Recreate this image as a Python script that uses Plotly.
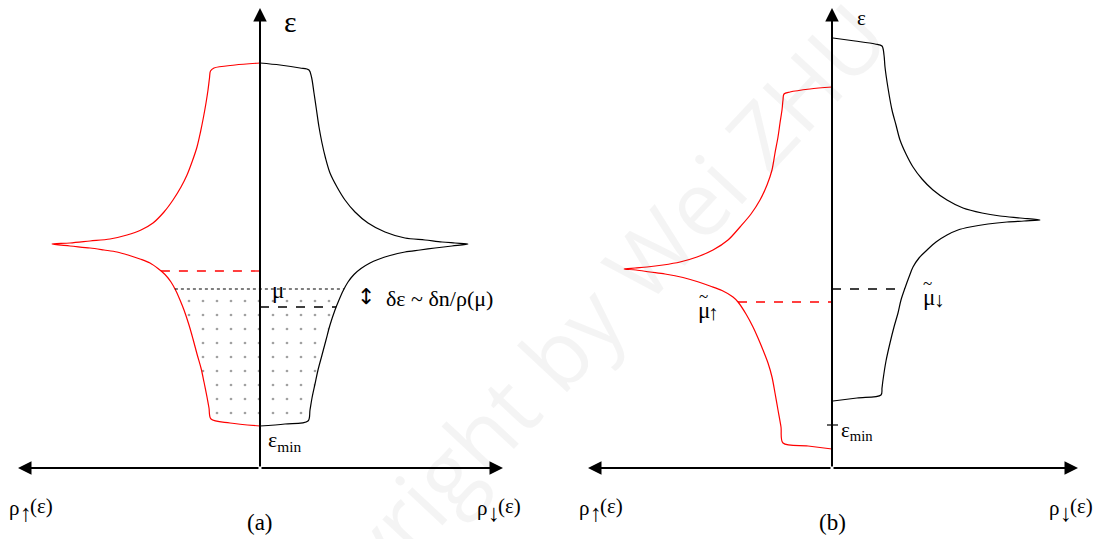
import numpy as np
import plotly.graph_objects as go

# ---------------- data (rho, epsilon) ----------------
# Panel (a): spin-up (left, red) and spin-down (right, black) densities of states
a_up_rho = [0.00, -0.30, -0.49, -0.51, -0.53, -0.56, -0.59, -0.63, -0.67, -0.71, -0.76, -0.80, -0.84,
            -0.89, -0.95, -1.02, -1.10, -1.20, -1.32, -1.43, -1.56, -1.70, -1.90, -2.08,
            -1.90, -1.70, -1.50, -1.33, -1.19, -1.07, -0.96, -0.87, -0.79, -0.73, -0.68, -0.63,
            -0.595, -0.565, -0.54, -0.52, -0.505, -0.495, -0.46, -0.25, 0.00]
a_up_eps = [0.42, 0.45, 0.49, 0.60, 0.71, 0.86, 1.00, 1.14, 1.29, 1.43, 1.58, 1.68, 1.77,
            1.86, 1.935, 1.995, 2.05, 2.09, 2.13, 2.16, 2.18, 2.20, 2.22, 2.24,
            2.25, 2.27, 2.29, 2.33, 2.38, 2.45, 2.56, 2.68, 2.81, 2.93, 3.06, 3.21,
            3.36, 3.51, 3.65, 3.78, 3.90, 3.97, 4.00, 4.03, 4.05]
a_dn_rho = [0.00, 0.25, 0.48, 0.50, 0.52, 0.55, 0.58, 0.62, 0.66, 0.70, 0.75, 0.79, 0.83,
            0.88, 0.94, 1.01, 1.10, 1.18, 1.30, 1.45, 1.60, 1.75, 1.92, 2.08,
            1.95, 1.82, 1.65, 1.45, 1.25, 1.08, 0.95, 0.85, 0.77, 0.70, 0.655, 0.62,
            0.59, 0.565, 0.54, 0.515, 0.49, 0.40, 0.20, 0.00]
a_dn_eps = [0.42, 0.44, 0.47, 0.58, 0.70, 0.84, 0.98, 1.13, 1.28, 1.43, 1.58, 1.68, 1.77,
            1.86, 1.935, 1.995, 2.05, 2.085, 2.125, 2.16, 2.18, 2.20, 2.22, 2.24,
            2.25, 2.26, 2.28, 2.30, 2.36, 2.45, 2.56, 2.68, 2.81, 2.95, 3.10, 3.25,
            3.41, 3.58, 3.75, 3.91, 3.98, 4.00, 4.03, 4.05]
a_mu = 1.79          # common chemical potential (dotted)
a_mu_up = 1.97       # red dashed level
a_mu_dn = 1.61       # black dashed level

# Panel (b): spin-split bands
b_up_rho = [0.00, -0.24, -0.49, -0.51, -0.54, -0.57, -0.60, -0.64, -0.69, -0.74, -0.79, -0.86, -0.94,
            -0.99, -1.10, -1.22, -1.35, -1.49, -1.67, -1.82, -1.96, -2.08,
            -1.97, -1.85, -1.69, -1.52, -1.35, -1.19, -1.04, -0.92, -0.81, -0.72, -0.65, -0.60,
            -0.57, -0.54, -0.52, -0.50, -0.49, -0.48, -0.42, -0.22, 0.00]
b_up_eps = [0.19, 0.22, 0.25, 0.41, 0.58, 0.75, 0.91, 1.05, 1.18, 1.30, 1.41, 1.54, 1.66,
            1.71, 1.775, 1.82, 1.865, 1.905, 1.94, 1.96, 1.98, 1.99,
            2.00, 2.01, 2.03, 2.06, 2.11, 2.18, 2.28, 2.41, 2.54, 2.68, 2.83, 2.98,
            3.15, 3.31, 3.45, 3.58, 3.68, 3.74, 3.76, 3.79, 3.81]
b_dn_rho = [0.01, 0.25, 0.49, 0.50, 0.51, 0.54, 0.58, 0.62, 0.66, 0.69, 0.73, 0.77, 0.81,
            0.87, 0.95, 1.04, 1.15, 1.26, 1.38, 1.56, 1.75, 1.92, 2.08,
            1.88, 1.68, 1.50, 1.31, 1.15, 1.01, 0.90, 0.81, 0.74, 0.68, 0.64, 0.60,
            0.56, 0.53, 0.52, 0.50, 0.43, 0.23, 0.01]
b_dn_eps = [0.67, 0.70, 0.73, 0.80, 0.88, 1.07, 1.25, 1.41, 1.55, 1.68, 1.80, 1.91, 2.01,
            2.10, 2.18, 2.26, 2.33, 2.38, 2.41, 2.44, 2.46, 2.47, 2.48,
            2.50, 2.52, 2.55, 2.60, 2.68, 2.78, 2.89, 3.01, 3.14, 3.28, 3.43, 3.58,
            3.80, 4.01, 4.13, 4.22, 4.24, 4.27, 4.30]
b_mu_up = 1.66
b_mu_dn = 1.79
b_eps_min = 0.43

axis_rho = [-2.42, 2.43, -2.44, 2.46]   # horizontal arrow extents (a-left, a-right, b-left, b-right)
axis_eps_top = 4.60

FONT = "Liberation Serif"


def lower_branch(rho, eps):
    """points of the curve up to (and including) the van Hove peak"""
    k = int(np.argmax(np.abs(rho)))
    return np.array(rho[:k + 1]), np.array(eps[:k + 1])


def rho_at(rho, eps, level):
    r, e = lower_branch(rho, eps)
    return float(np.interp(level, e, r))


fig = go.Figure()

# --- filled (dotted) occupied region in panel (a)
ru, eu = lower_branch(a_up_rho, a_up_eps)
rd, ed = lower_branch(a_dn_rho, a_dn_eps)
mask_u = eu < a_mu
mask_d = ed < a_mu
poly_r = ([rho_at(a_up_rho, a_up_eps, a_mu)] + list(ru[mask_u][::-1]) +
          list(rd[mask_d]) + [rho_at(a_dn_rho, a_dn_eps, a_mu)])
poly_e = [a_mu] + list(eu[mask_u][::-1]) + list(ed[mask_d]) + [a_mu]
fig.add_trace(go.Scatter(x=poly_r, y=poly_e, mode="lines", fill="toself",
                         line=dict(width=0, shape="spline", smoothing=0.9), fillcolor="rgba(0,0,0,0)",
                         fillpattern=dict(shape=".", size=14, solidity=0.03,
                                          fgcolor="#444444", bgcolor="rgba(0,0,0,0)"),
                         xaxis="x", yaxis="y", hoverinfo="skip"))

# --- DOS curves
for r, e, c, xa in [(a_up_rho, a_up_eps, "#ff0000", "x"), (a_dn_rho, a_dn_eps, "#000000", "x"),
                    (b_up_rho, b_up_eps, "#ff0000", "x2"), (b_dn_rho, b_dn_eps, "#000000", "x2")]:
    fig.add_trace(go.Scatter(x=r, y=e, mode="lines",
                             line=dict(color=c, width=1.2, shape="spline", smoothing=0.9),
                             xaxis=xa, yaxis="y", hoverinfo="skip"))


# --- level lines
def hline(x0, x1, y, color, dash, xa, width=1.3):
    fig.add_trace(go.Scatter(x=[x0, x1], y=[y, y], mode="lines",
                             line=dict(color=color, dash=dash, width=width),
                             xaxis=xa, yaxis="y", hoverinfo="skip"))


hline(rho_at(a_up_rho, a_up_eps, a_mu_up), 0, a_mu_up, "#ff0000", "dash", "x")
hline(0, rho_at(a_dn_rho, a_dn_eps, a_mu_dn), a_mu_dn, "#000000", "dash", "x")
hline(rho_at(a_up_rho, a_up_eps, a_mu), rho_at(a_dn_rho, a_dn_eps, a_mu), a_mu, "#000000", "dot", "x", 1.2)
hline(rho_at(b_up_rho, b_up_eps, b_mu_up), 0, b_mu_up, "#ff0000", "dash", "x2")
hline(0, rho_at(b_dn_rho, b_dn_eps, b_mu_dn), b_mu_dn, "#000000", "dash", "x2")
hline(-0.05, 0.06, b_eps_min, "#000000", "solid", "x2", 1.2)

# --- coordinate axes (arrows)
anns = []
for xr, lft, rgt in [("x", axis_rho[0], axis_rho[1]), ("x2", axis_rho[2], axis_rho[3])]:
    for (tx, ty) in [(0, axis_eps_top), (rgt, 0), (lft, 0)]:
        anns.append(dict(x=tx, y=ty, ax=0, ay=0, xref=xr, yref="y", axref=xr, ayref="y",
                         showarrow=True, arrowhead=2, arrowsize=1.35, arrowwidth=2,
                         arrowcolor="black", text=""))


def label(text, x, y, xr, size=20, xanchor="center", yanchor="middle", color="black", family=FONT):
    anns.append(dict(text=text, x=x, y=y, xref=xr, yref="y", showarrow=False,
                     xanchor=xanchor, yanchor=yanchor, font=dict(family=family, size=size, color=color)))


def rho_label(xr, x_rho, x_arrow, x_paren, arrow):
    label("ρ", x_rho, -0.40, xr, size=21, xanchor="left")
    label(arrow, x_arrow, -0.45, xr, size=24)
    label("(ε)", x_paren, -0.38, xr, size=21, xanchor="left")


# panel (a) labels
label("ε", 0.22, 4.47, "x", size=30, xanchor="left")
label("μ", 0.10, 1.78, "x", size=23, xanchor="left")
label("ε<sub>min</sub>", 0.06, 0.27, "x", size=22, xanchor="left")
label("↕", 1.06, 1.72, "x", size=22, family="DejaVu Sans")
label("δε ~ δn/ρ(μ)", 1.24, 1.70, "x", size=22, xanchor="left")
rho_label("x", -2.53, -2.345, -2.32, "↑")
rho_label("x", 2.15, 2.335, 2.36, "↓")
label("(a)", 0.0, -0.545, "x", size=23)

# panel (b) labels
label("ε", 0.23, 4.50, "x2", size=21, xanchor="left")
label("μ", -1.36, 1.58, "x2", size=23, xanchor="left")
label("↑", -1.185, 1.55, "x2", size=21)
label("~", -1.29, 1.72, "x2", size=17)
label("μ", 0.89, 1.71, "x2", size=23, xanchor="left")
label("↓", 1.075, 1.68, "x2", size=21)
label("~", 0.955, 1.85, "x2", size=17)
label("ε<sub>min</sub>", 0.07, 0.37, "x2", size=21, xanchor="left")
rho_label("x2", -2.55, -2.365, -2.34, "↑")
rho_label("x2", 2.15, 2.335, 2.36, "↓")
label("(b)", 0.0, -0.545, "x2", size=23)

# watermark
anns.append(dict(text="Copyright by Wei ZHU", x=0.5, y=0.345, xref="paper", yref="paper",
                 showarrow=False, textangle=-47,
                 font=dict(family="Open Sans", size=90, color="rgba(0,0,0,0.045)")))

hidden = dict(visible=False, showgrid=False, zeroline=False, fixedrange=True)
fig.update_layout(
    width=1111, height=539,
    margin=dict(l=0, r=0, t=0, b=0),
    paper_bgcolor="white", plot_bgcolor="white",
    showlegend=False,
    xaxis=dict(range=[-2.60, 8.51], domain=[0, 1], **hidden),
    xaxis2=dict(range=[-8.32, 2.79], domain=[0, 1], overlaying="x", **hidden),
    yaxis=dict(range=[-0.71, 4.68], domain=[0, 1], **hidden),
    annotations=anns,
)

fig.write_html("out.html", config={"displayModeBar": False},
               post_script="document.body.style.margin='0';document.body.style.overflow='hidden';")
